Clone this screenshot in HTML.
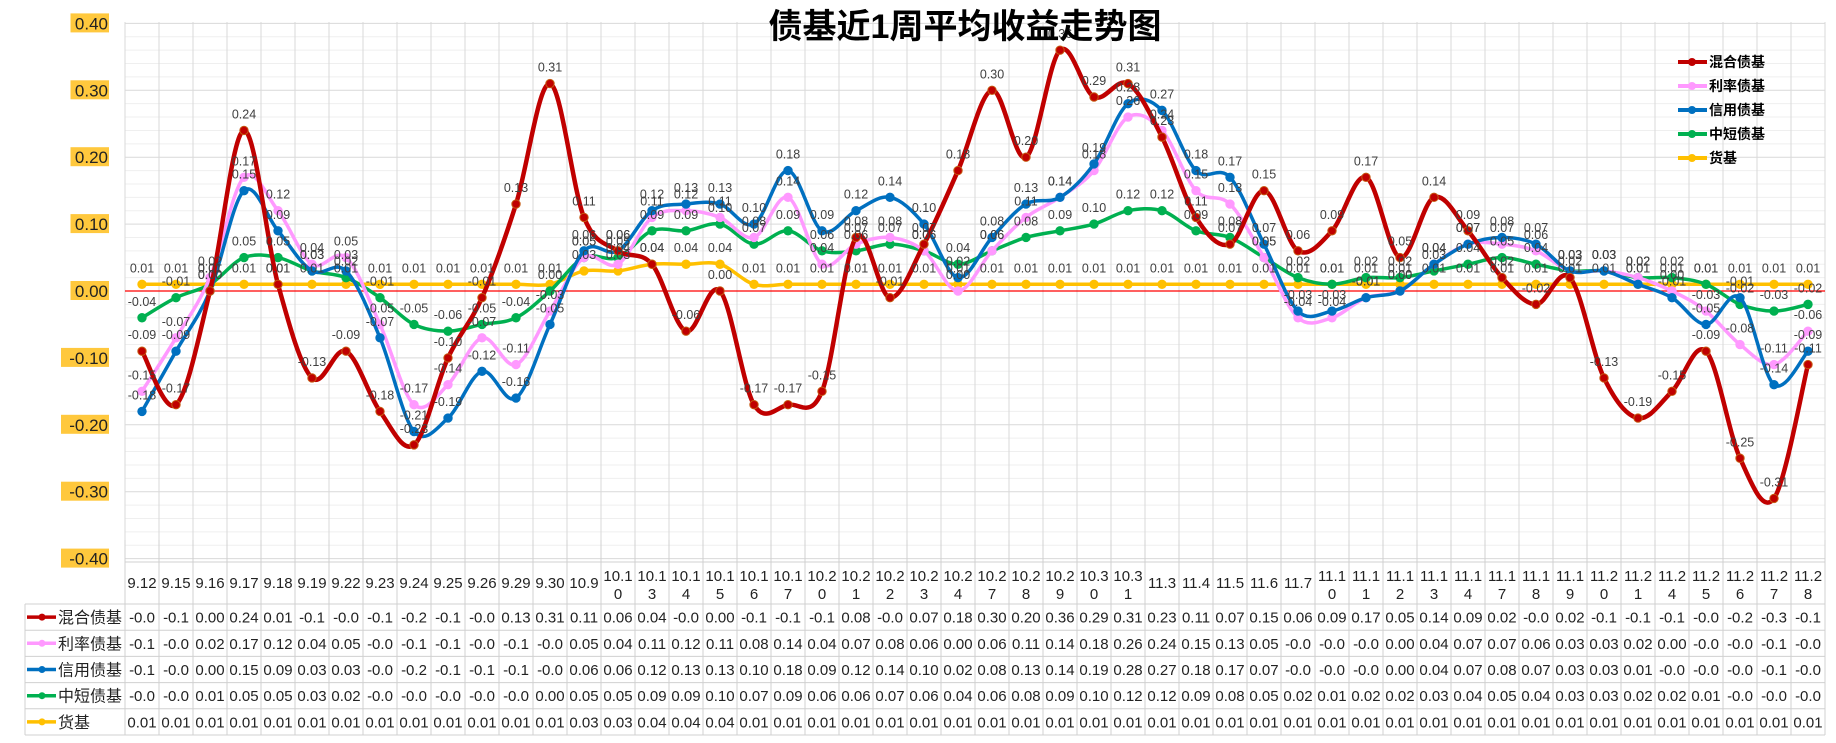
<!DOCTYPE html>
<html><head><meta charset="utf-8">
<style>
html,body{margin:0;padding:0;background:#fff;}
svg{display:block;font-family:"Liberation Sans","Noto Sans CJK SC",sans-serif;}
</style></head>
<body>
<svg id="chart" width="1836" height="743" viewBox="0 0 1836 743" xmlns="http://www.w3.org/2000/svg">
<rect x="0" y="0" width="1836" height="743" fill="#fff"/>
<g id="grid"></g>
<g id="ylabels"></g>
<line x1="125" y1="291" x2="1825" y2="291" stroke="#ff0000" stroke-width="1.2"/>
<g id="series"></g>
<g id="dlabels"></g>
<text x="965" y="38" text-anchor="middle" font-size="34" font-weight="bold" fill="#000" font-family="'Liberation Sans','Noto Sans CJK SC',sans-serif">债基近1周平均收益走势图</text>
<g id="legend"></g>
<g id="table"></g>
</svg>
<script>
const categories = ["9.12","9.15","9.16","9.17","9.18","9.19","9.22","9.23","9.24","9.25","9.26","9.29","9.30","10.9","10.10","10.13","10.14","10.15","10.16","10.17","10.20","10.21","10.22","10.23","10.24","10.27","10.28","10.29","10.30","10.31","11.3","11.4","11.5","11.6","11.7","11.10","11.11","11.12","11.13","11.14","11.17","11.18","11.19","11.20","11.21","11.24","11.25","11.26","11.27","11.28"];
const seriesNames = ["混合债基","利率债基","信用债基","中短债基","货基"];
const mixedValues = [-0.09,-0.17,0.00,0.24,0.01,-0.13,-0.09,-0.18,-0.23,-0.10,-0.01,0.13,0.31,0.11,0.06,0.04,-0.06,0.00,-0.17,-0.17,-0.15,0.08,-0.01,0.07,0.18,0.30,0.20,0.36,0.29,0.31,0.23,0.11,0.07,0.15,0.06,0.09,0.17,0.05,0.14,0.09,0.02,-0.02,0.02,-0.13,-0.19,-0.15,-0.09,-0.25,-0.31,-0.11];
const rateValues = [-0.15,-0.07,0.02,0.17,0.12,0.04,0.05,-0.05,-0.17,-0.14,-0.07,-0.11,-0.03,0.05,0.04,0.11,0.12,0.11,0.08,0.14,0.04,0.07,0.08,0.06,0.00,0.06,0.11,0.14,0.18,0.26,0.24,0.15,0.13,0.05,-0.04,-0.04,-0.01,0.00,0.04,0.07,0.07,0.06,0.03,0.03,0.02,0.00,-0.03,-0.08,-0.11,-0.06];
const creditValues = [-0.18,-0.09,0.00,0.15,0.09,0.03,0.03,-0.07,-0.21,-0.19,-0.12,-0.16,-0.05,0.06,0.06,0.12,0.13,0.13,0.10,0.18,0.09,0.12,0.14,0.10,0.02,0.08,0.13,0.14,0.19,0.28,0.27,0.18,0.17,0.07,-0.03,-0.03,-0.01,0.00,0.04,0.07,0.08,0.07,0.03,0.03,0.01,-0.01,-0.05,-0.01,-0.14,-0.09];
const shortValues = [-0.04,-0.01,0.01,0.05,0.05,0.03,0.02,-0.01,-0.05,-0.06,-0.05,-0.04,0.00,0.05,0.05,0.09,0.09,0.10,0.07,0.09,0.06,0.06,0.07,0.06,0.04,0.06,0.08,0.09,0.10,0.12,0.12,0.09,0.08,0.05,0.02,0.01,0.02,0.02,0.03,0.04,0.05,0.04,0.03,0.03,0.02,0.02,0.01,-0.02,-0.03,-0.02];
const moneyValues = [0.01,0.01,0.01,0.01,0.01,0.01,0.01,0.01,0.01,0.01,0.01,0.01,0.01,0.03,0.03,0.04,0.04,0.04,0.01,0.01,0.01,0.01,0.01,0.01,0.01,0.01,0.01,0.01,0.01,0.01,0.01,0.01,0.01,0.01,0.01,0.01,0.01,0.01,0.01,0.01,0.01,0.01,0.01,0.01,0.01,0.01,0.01,0.01,0.01,0.01];
const yTicks = [0.4,0.3,0.2,0.1,0,-0.1,-0.2,-0.3,-0.4];

const NS="http://www.w3.org/2000/svg";
const colors=["#c00000","#ff99ff","#0070c0","#00b050","#ffc000"];
const widths=[4.5,3.5,3.5,3.5,3.5];
const allSeries=[mixedValues,rateValues,creditValues,shortValues,moneyValues];
const slugs=["mixed","rate","credit","short","money"];
const X0=142, DX=34, Y0=291, PXU=669;
function xs(i){return X0+DX*i;}
function ys(v){return Y0-v*PXU;}
function mk(tag,attrs,parent){const e=document.createElementNS(NS,tag);for(const k in attrs)e.setAttribute(k,attrs[k]);parent.appendChild(e);return e;}

const grid=document.getElementById('grid');
for(let k=0;k<=40;k++){
  const y=ys(0.4)+k*PXU*0.02;
  const g=mk('line',{x1:125,x2:1825,y1:y,y2:y,stroke:(k%5===0)?'#d9d9d9':'#efefef','stroke-width':1},grid);
  
  
}
for(let k=0;k<=categories.length;k++){
  const x=125+DX*k;
  const g=mk('line',{x1:x,x2:x,y1:22,y2:562,stroke:'#d9d9d9','stroke-width':1},grid);
  
  
}
const yl=document.getElementById('ylabels');
yTicks.forEach(t=>{
  const s=t.toFixed(2);
  const w=s.length*9.5+0.5;
  const r=mk('rect',{x:109-w,y:ys(t)-10,width:w,height:19,fill:'#ffc83d'},yl);
  
  
  const tx=mk('text',{x:108,y:ys(t)+6,'text-anchor':'end','font-size':17,fill:'#222'},yl);
  
  
  tx.textContent=s;
});

function smoothPath(vals){
  const p=vals.map((v,i)=>[xs(i),ys(v)]);
  let d=`M${p[0][0]},${p[0][1]}`;
  for(let i=0;i<p.length-1;i++){
    const p0=p[Math.max(0,i-1)],p1=p[i],p2=p[i+1],p3=p[Math.min(p.length-1,i+2)];
    const c1=[p1[0]+(p2[0]-p0[0])/6,p1[1]+(p2[1]-p0[1])/6];
    const c2=[p2[0]-(p3[0]-p1[0])/6,p2[1]-(p3[1]-p1[1])/6];
    d+=` C${c1[0]},${c1[1]} ${c2[0]},${c2[1]} ${p2[0]},${p2[1]}`;
  }
  return d;
}
const sg=document.getElementById('series');
const dl=document.getElementById('dlabels');
[4,3,1,2,0].forEach(si=>{
  const vals=allSeries[si];
  const path=mk('path',{d:smoothPath(vals),fill:'none',stroke:colors[si],'stroke-width':widths[si],'stroke-linejoin':'round'},sg);
  
  
  vals.forEach((v,i)=>{
    const c=mk('circle',{cx:xs(i),cy:ys(v),r:4.2,fill:colors[si],stroke:si===0?'#c55a11':colors[si],'stroke-width':1},sg);
    
    
    const t=mk('text',{x:xs(i),y:ys(v)-12,'text-anchor':'middle','font-size':12.5,fill:'#404040'},dl);
    
    
    t.textContent=v.toFixed(2);
  });
});

const lg=document.getElementById('legend');
seriesNames.forEach((n,si)=>{
  const y=62+si*24;
  const l=mk('line',{x1:1678,x2:1707,y1:y,y2:y,stroke:colors[si],'stroke-width':4},lg);
  
  
  const c=mk('circle',{cx:1692,cy:y,r:4,fill:colors[si]},lg);
  
  
  const t=mk('text',{x:1709,y:y+5,'font-size':14,'font-weight':'bold',fill:'#000'},lg);
  
  
  t.textContent=n;
});

const tb=document.getElementById('table');
const TOP=562, HB=604, RH=26.2, BOT=HB+RH*5;
for(let k=0;k<=categories.length;k++){
  const x=125+DX*k;
  const l=mk('line',{x1:x,x2:x,y1:540,y2:BOT,stroke:'#d0d0d0','stroke-width':1},tb);
  
  
}
const hl=mk('line',{x1:25,x2:25,y1:HB,y2:BOT,stroke:'#d0d0d0','stroke-width':1},tb);


[TOP].forEach(y=>{
  const l=mk('line',{x1:125,x2:1825,y1:y,y2:y,stroke:'#d0d0d0','stroke-width':1},tb);
  
  
});
for(let r=0;r<=5;r++){
  const y=HB+RH*r;
  const l=mk('line',{x1:25,x2:1825,y1:y,y2:y,stroke:'#d0d0d0','stroke-width':1},tb);
  
  
}
categories.forEach((c,i)=>{
  const x=xs(i);
  if(c.length<=4){
    const t=mk('text',{x:x,y:588,'text-anchor':'middle','font-size':15,fill:'#222'},tb);
    
    
    t.textContent=c;
  }else{
    const t=mk('text',{x:x,y:581,'text-anchor':'middle','font-size':15,fill:'#222'},tb);
    
    
    t.textContent=c.slice(0,4);
    const t2=mk('text',{x:x,y:599,'text-anchor':'middle','font-size':15,fill:'#222'},tb);
    
    
    t2.textContent=c.slice(4);
  }
});
seriesNames.forEach((n,si)=>{
  const cy=HB+RH*si+RH/2;
  const l=mk('line',{x1:27,x2:56,y1:cy,y2:cy,stroke:colors[si],'stroke-width':3.5},tb);
  
  
  const c=mk('circle',{cx:42,cy:cy,r:3.5,fill:colors[si]},tb);
  
  
  const t=mk('text',{x:58,y:cy+6,'font-size':16,fill:'#222'},tb);
  
  
  t.textContent=n;
  allSeries[si].forEach((v,i)=>{
    const tv=mk('text',{x:xs(i),y:cy+5.5,'text-anchor':'middle','font-size':15,fill:'#222'},tb);
    
    
    tv.textContent=v.toFixed(2).slice(0,4);
  });
});
</script>
</body></html>
